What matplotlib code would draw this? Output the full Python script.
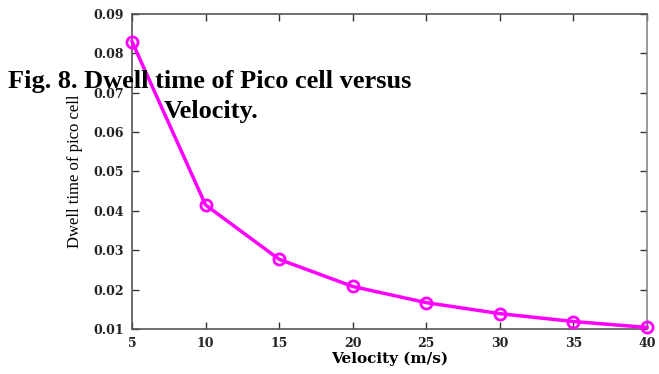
import numpy as np
import matplotlib
matplotlib.use("Agg")
import matplotlib.pyplot as plt

# data
velocity = [5, 10, 15, 20, 25, 30, 35, 40]
dwell_time = [0.0830, 0.0415, 0.0277, 0.0208, 0.0167, 0.0139, 0.0119, 0.0104]
xticks = [5, 10, 15, 20, 25, 30, 35, 40]
yticks = [0.01, 0.02, 0.03, 0.04, 0.05, 0.06, 0.07, 0.08, 0.09]

fig = plt.figure(figsize=(6.59, 3.74), dpi=100)
ax = fig.add_axes([0.2003, 0.1203, 0.7815, 0.8423])

ax.plot(velocity, dwell_time, color="magenta", lw=2.5, marker="o", ms=8,
        mfc="none", mec="magenta", mew=2, clip_on=False, zorder=3)

ax.set_xlim(5, 40)
ax.set_ylim(0.01, 0.09)
ax.set_xticks(xticks)
ax.set_yticks(yticks)
ax.set_xticklabels([str(v) for v in xticks])
ax.set_yticklabels(["%.2f" % v for v in yticks])
ax.tick_params(direction="in", top=True, right=True, length=5, width=1, color="#333333", pad=6)
for lab in ax.get_xticklabels() + ax.get_yticklabels():
    lab.set_family("DejaVu Serif")
    lab.set_weight("bold")
    lab.set_fontsize(9)
    lab.set_color("#222222")
for s in ax.spines.values():
    s.set_color("#555555")
    s.set_linewidth(1.2)
ax.spines["right"].set_color("#888888")

ax.set_xlabel("Velocity (m/s)", family="DejaVu Serif", weight="bold", fontsize=11, labelpad=1)
ax.set_ylabel("Dwell time of pico cell", family="Liberation Serif", fontsize=12)
ax.yaxis.set_label_coords(-0.095, 0.50)

# caption text sitting over the plot, as in the source
fig.text(210 / 659, 1 - 88 / 374, "Fig. 8. Dwell time of Pico cell versus",
         family="Liberation Serif", weight="bold", fontsize=19, ha="center", va="baseline")
fig.text(211 / 659, 1 - 118 / 374, "Velocity.",
         family="Liberation Serif", weight="bold", fontsize=19, ha="center", va="baseline")

plt.savefig("out.png", dpi=100)
